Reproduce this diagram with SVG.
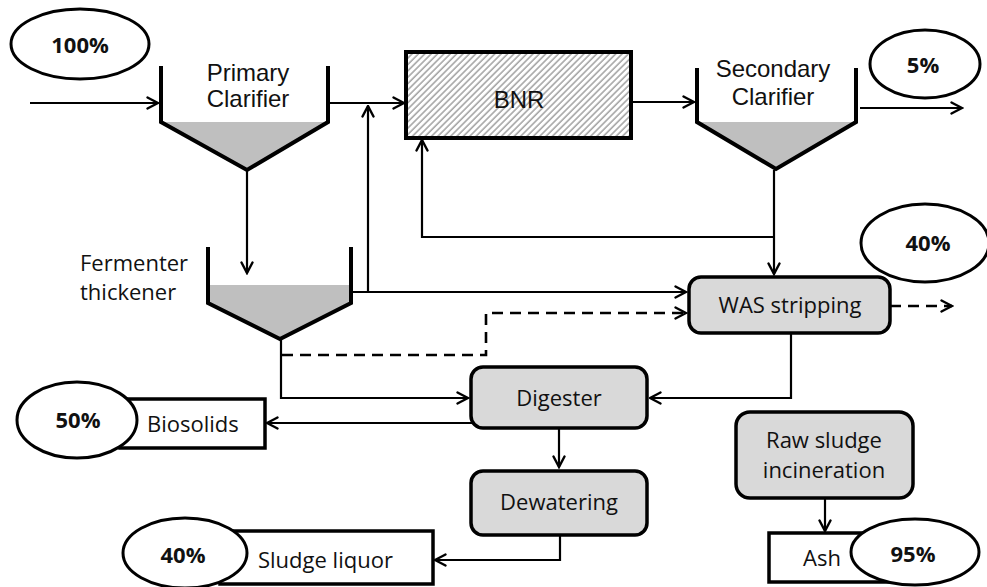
<svg xmlns="http://www.w3.org/2000/svg" width="987" height="587" viewBox="0 0 987 587">
<style>
.conn{fill:none;stroke:#000;stroke-width:2.2}
.dash{stroke-dasharray:11 7;stroke-width:2.6}
.wall{fill:none;stroke:#000;stroke-width:4;stroke-linejoin:miter}
.cone{fill:#bfbfbf;stroke:none}
.box{fill:#d9d9d9;stroke:#000;stroke-width:3.5}
.wbox{fill:#fff;stroke:#000;stroke-width:3.5}
.ell{fill:#fff;stroke:#000;stroke-width:3}
.arial{font-family:"Liberation Sans",Arial,sans-serif;font-size:24px;fill:#111}
.cal{font-family:"Open Sans","Noto Sans",sans-serif;font-size:22px;fill:#111}
.pct{font-family:"Open Sans","Noto Sans",sans-serif;font-size:22px;font-weight:bold;fill:#111;text-anchor:middle}
.mid{text-anchor:middle}
</style>
<defs>
<marker id="arr" viewBox="0 0 14 14" refX="12.5" refY="7" markerWidth="14" markerHeight="14" markerUnits="userSpaceOnUse" orient="auto">
<path d="M2,1.5 L12.5,7 L2,12.5" fill="none" stroke="#000" stroke-width="2.4" stroke-linecap="round" stroke-linejoin="miter"/>
</marker>
<pattern id="hatch" patternUnits="userSpaceOnUse" width="4.5" height="4.5" patternTransform="rotate(45)">
<rect width="4.5" height="4.5" fill="#fff"/>
<line x1="1" y1="0" x2="1" y2="4.5" stroke="#9a9a9a" stroke-width="1.4"/>
</pattern>
</defs>

<g id="connectors">
<path class="conn" d="M30,103 H158" marker-end="url(#arr)"/>
<path class="conn" d="M330,103 H404" marker-end="url(#arr)"/>
<path class="conn" d="M368,292 V106" marker-end="url(#arr)"/>
<path class="conn" d="M632,102 H694" marker-end="url(#arr)"/>
<path class="conn" d="M860,108 H962" marker-end="url(#arr)"/>
<path class="conn" d="M774,170 V274" marker-end="url(#arr)"/>
<path class="conn" d="M774,237 H422 V140" marker-end="url(#arr)"/>
<path class="conn" d="M247,170 V273" marker-end="url(#arr)"/>
<path class="conn" d="M351,292 H686" marker-end="url(#arr)"/>
<path class="conn dash" d="M282,355 H486 V313 H686" marker-end="url(#arr)"/>
<path class="conn" d="M281,339 V398 H468" marker-end="url(#arr)"/>
<path class="conn" d="M791,333 V398 H650" marker-end="url(#arr)"/>
<path class="conn" d="M472,423 H267" marker-end="url(#arr)"/>
<path class="conn" d="M559,428 V467" marker-end="url(#arr)"/>
<path class="conn" d="M560,535 V560 H435" marker-end="url(#arr)"/>
<path class="conn" d="M825,498 V531" marker-end="url(#arr)"/>
<path class="conn dash" d="M890,306 H952" marker-end="url(#arr)"/>
</g>

<g id="pct-100">
<ellipse class="ell" cx="80" cy="44" rx="69" ry="35"/>
<text class="pct" x="80" y="53">100%</text>
</g>

<g id="primary-clarifier">
<polygon class="cone" points="162,122 327,122 247,169"/>
<polyline class="wall" points="161,66 161,122 247,170 328,122 328,66"/>
<text class="arial mid" x="248" y="81">Primary</text>
<text class="arial mid" x="248" y="107">Clarifier</text>
</g>

<g id="bnr">
<rect x="406" y="52" width="225" height="86" fill="url(#hatch)" stroke="#000" stroke-width="4"/>
<text class="arial mid" x="519" y="108" font-size="22">BNR</text>
</g>

<g id="secondary-clarifier">
<polygon class="cone" points="698,122 855,122 776,168"/>
<polyline class="wall" points="697,68 697,122 776,169 856,122 856,68"/>
<text class="arial mid" x="773" y="77">Secondary</text>
<text class="arial mid" x="773" y="105">Clarifier</text>
</g>

<g id="pct-5">
<ellipse class="ell" cx="925" cy="64" rx="55" ry="34"/>
<text class="pct" x="923" y="73">5%</text>
</g>

<g id="fermenter-thickener">
<polygon class="cone" points="209,285 350,285 350,303 280,338 209,303"/>
<polyline class="wall" points="208,247 208,303 280,339 351,303 351,247"/>
<text class="cal" x="80" y="271">Fermenter</text>
<text class="cal" x="80" y="300">thickener</text>
</g>

<g id="pct-40-was">
<ellipse class="ell" cx="925" cy="243" rx="64" ry="39"/>
<text class="pct" x="928" y="251">40%</text>
</g>

<g id="was-stripping">
<rect class="box" x="689" y="277" width="201" height="56" rx="12"/>
<text class="cal mid" x="790" y="313">WAS stripping</text>
</g>

<g id="digester">
<rect class="box" x="471" y="367" width="176" height="61" rx="12"/>
<text class="cal mid" x="559" y="406">Digester</text>
</g>

<g id="biosolids">
<rect class="wbox" x="120" y="399" width="145" height="49"/>
<ellipse class="ell" cx="77" cy="420" rx="60" ry="38"/>
<text class="pct" x="78" y="428">50%</text>
<text class="cal" x="147" y="432">Biosolids</text>
</g>

<g id="dewatering">
<rect class="box" x="471" y="471" width="176" height="64" rx="12"/>
<text class="cal mid" x="559" y="510">Dewatering</text>
</g>

<g id="sludge-liquor">
<rect class="wbox" x="220" y="531" width="213" height="53"/>
<ellipse class="ell" cx="185" cy="553" rx="62" ry="35"/>
<text class="pct" x="183" y="563">40%</text>
<text class="cal" x="258" y="568">Sludge liquor</text>
</g>

<g id="raw-sludge-incineration">
<rect class="box" x="736" y="412" width="177" height="86" rx="14"/>
<text class="cal mid" x="824" y="448">Raw sludge</text>
<text class="cal mid" x="824" y="478">incineration</text>
</g>

<g id="ash">
<rect class="wbox" x="769" y="533" width="150" height="49"/>
<text class="cal" x="803" y="566">Ash</text>
<ellipse class="ell" cx="915" cy="552" rx="64" ry="33"/>
<text class="pct" x="913" y="562">95%</text>
</g>
</svg>
